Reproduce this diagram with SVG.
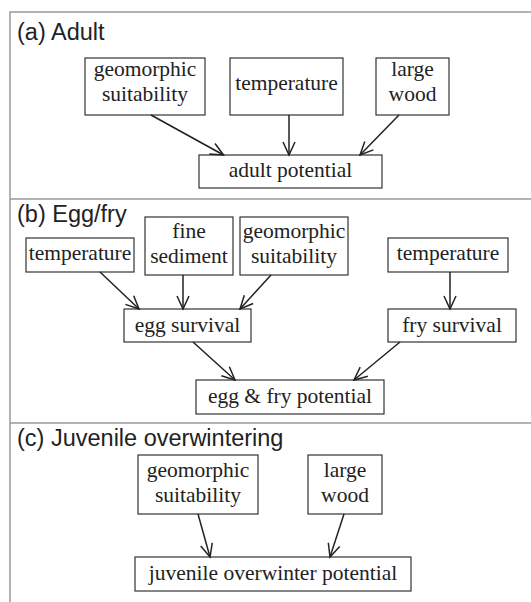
<svg xmlns="http://www.w3.org/2000/svg" width="531" height="602" viewBox="0 0 531 602">
<style>
.frame{stroke:#9a9a9a;stroke-width:1.5;fill:none}
.box rect{fill:#fff;stroke:#333;stroke-width:1.2}
.box text{font-family:"Liberation Serif","Times New Roman",serif;font-size:21.5px;fill:#222;text-anchor:middle}
.title{font-family:"Liberation Sans",Arial,sans-serif;font-size:23.5px;fill:#222}
#connectors line{stroke:#222;stroke-width:1.5;marker-end:url(#arr)}
</style>
<defs>
<marker id="arr" markerUnits="userSpaceOnUse" viewBox="-14 -8 16 16" refX="0" refY="0" markerWidth="16" markerHeight="16" orient="auto">
<path d="M-13,-6 L0,0 L-13,6" fill="none" stroke="#222" stroke-width="1.5"/>
</marker>
</defs>
<rect width="531" height="602" fill="#fff"/>
<g id="frame">
<path class="frame" d="M10,602 V12 H531 M10,199 H531 M10,423 H531"/>
</g>
<text class="title" x="17" y="40">(a) Adult</text>
<text class="title" x="17" y="222">(b) Egg/fry</text>
<text class="title" x="17" y="446">(c) Juvenile overwintering</text>

<g id="a-geo" class="box"><rect x="85" y="58" width="120" height="57"/><text x="145" y="76">geomorphic</text><text x="145" y="101">suitability</text></g>
<g id="a-temp" class="box"><rect x="230" y="58" width="113" height="57"/><text x="286.5" y="90">temperature</text></g>
<g id="a-wood" class="box"><rect x="376" y="58" width="73" height="57"/><text x="412.5" y="76">large</text><text x="412.5" y="101">wood</text></g>
<g id="a-adult" class="box"><rect x="199" y="155" width="183" height="33"/><text x="290.5" y="177">adult potential</text></g>

<g id="b-tempL" class="box"><rect x="26" y="238" width="108" height="34"/><text x="80" y="260">temperature</text></g>
<g id="b-fine" class="box"><rect x="145" y="217" width="88" height="58"/><text x="189" y="238">fine</text><text x="189" y="263">sediment</text></g>
<g id="b-geo" class="box"><rect x="240" y="217" width="108" height="58"/><text x="294" y="238">geomorphic</text><text x="294" y="263">suitability</text></g>
<g id="b-tempR" class="box"><rect x="388" y="238" width="120" height="34"/><text x="448" y="260">temperature</text></g>
<g id="b-egg" class="box"><rect x="124" y="309" width="127" height="33"/><text x="187.5" y="332">egg survival</text></g>
<g id="b-fry" class="box"><rect x="388" y="309" width="128" height="33"/><text x="452" y="332">fry survival</text></g>
<g id="b-eggfry" class="box"><rect x="196" y="380" width="188" height="34"/><text x="290" y="403">egg &amp; fry potential</text></g>

<g id="c-geo" class="box"><rect x="138" y="455" width="120" height="59"/><text x="198" y="477">geomorphic</text><text x="198" y="502">suitability</text></g>
<g id="c-wood" class="box"><rect x="308" y="455" width="74" height="59"/><text x="345" y="477">large</text><text x="345" y="502">wood</text></g>
<g id="c-juv" class="box"><rect x="135" y="557" width="276" height="34"/><text x="273" y="580">juvenile overwinter potential</text></g>

<g id="connectors">
<line x1="151" y1="115" x2="223.5" y2="155"/>
<line x1="289" y1="115" x2="289" y2="155"/>
<line x1="399" y1="115" x2="360" y2="155"/>
<line x1="100" y1="272" x2="139" y2="309"/>
<line x1="183" y1="275" x2="183" y2="309"/>
<line x1="271" y1="275" x2="240" y2="309"/>
<line x1="450" y1="272" x2="450" y2="309"/>
<line x1="193" y1="342" x2="235" y2="380"/>
<line x1="400" y1="342" x2="354" y2="380"/>
<line x1="198" y1="514" x2="210" y2="557"/>
<line x1="344" y1="514" x2="330" y2="557"/>
</g>
</svg>
